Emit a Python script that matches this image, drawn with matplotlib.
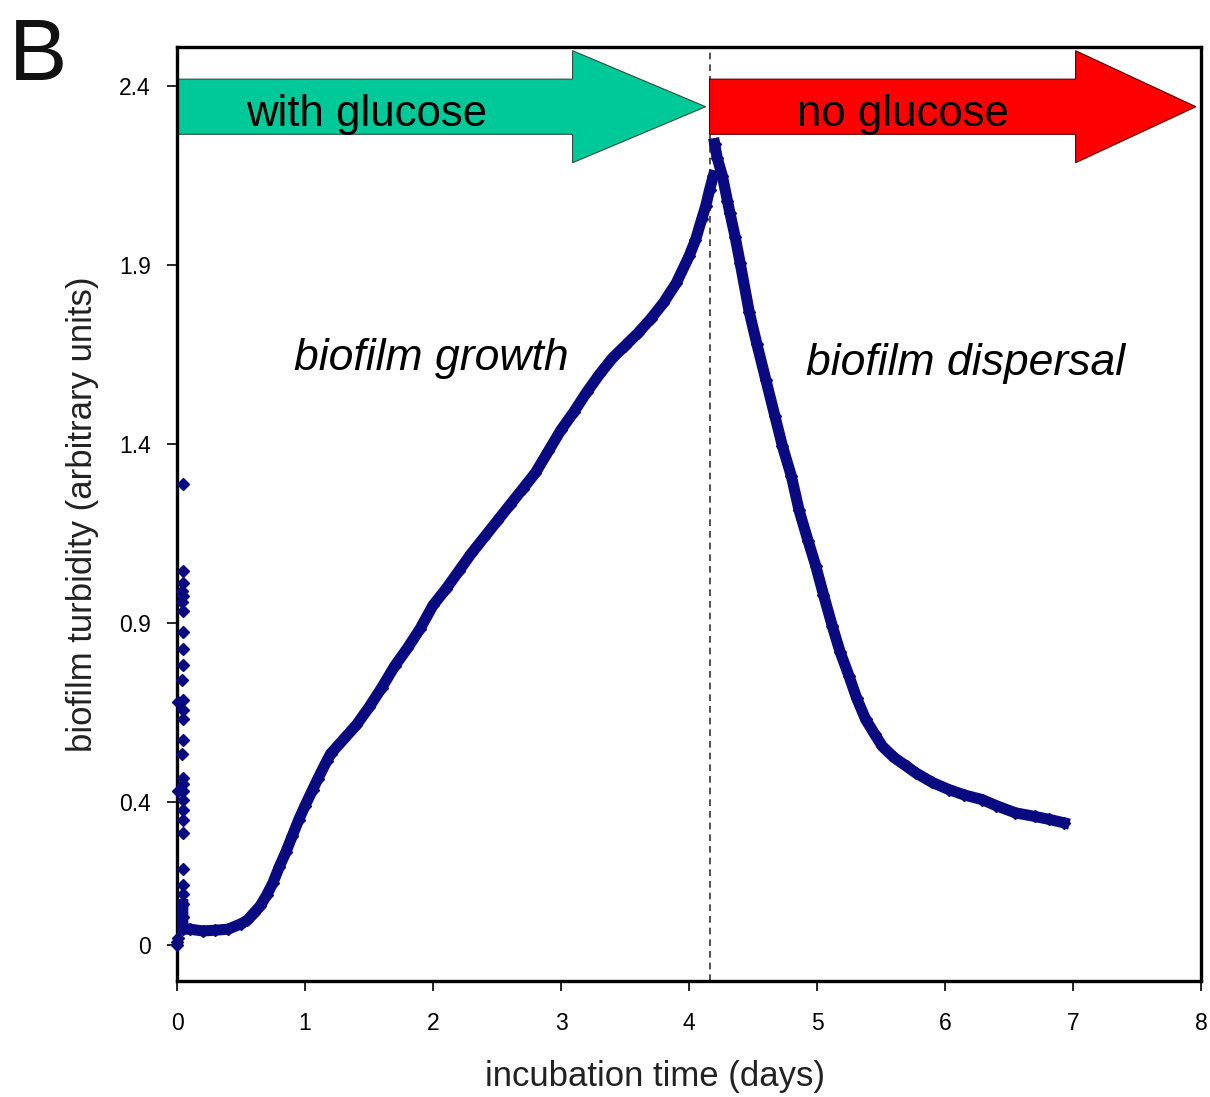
import matplotlib
matplotlib.use("Agg")
import matplotlib.pyplot as plt
from matplotlib.patches import FancyArrow

plt.rcParams['font.family'] = ['Liberation Sans', 'DejaVu Sans']

# ---- data ----
# initial spike of scattered readings at the very start
spike_x = [0.0, 0.0, 0.01, 0.045, 0.045, 0.045, 0.04, 0.045, 0.04, 0.045, 0.045, 0.045,
           0.045, 0.04, 0.045, 0.01, 0.045, 0.045, 0.045, 0.04, 0.045, 0.045, 0.01,
           0.045, 0.045, 0.045, 0.045, 0.045, 0.045, 0.045, 0.045]
spike_y = [0.0, 0.01, 0.02, 1.29, 1.047, 1.013, 0.99, 0.975, 0.96, 0.935, 0.876, 0.827,
           0.783, 0.74, 0.686, 0.68, 0.656, 0.632, 0.573, 0.534, 0.466, 0.45, 0.43,
           0.432, 0.407, 0.378, 0.349, 0.315, 0.212, 0.168, 0.144]

# growth phase (with glucose)
growth_x = [0.045, 0.045, 0.045, 0.1, 0.2, 0.3, 0.4, 0.5, 0.55, 0.6, 0.65, 0.7, 0.75, 0.8,
            0.85, 0.9, 0.95, 1.0, 1.06, 1.1, 1.17, 1.2, 1.3, 1.4, 1.5, 1.6, 1.7, 1.8,
            1.9, 2.0, 2.1, 2.2, 2.3, 2.4, 2.5, 2.6, 2.7, 2.8, 2.9, 3.0, 3.1, 3.2, 3.3,
            3.4, 3.5, 3.6, 3.7, 3.8, 3.9, 4.0, 4.05, 4.1, 4.13, 4.16, 4.19]
growth_y = [0.114, 0.08, 0.045, 0.045, 0.04, 0.042, 0.045, 0.06, 0.07, 0.09, 0.11, 0.14,
            0.175, 0.22, 0.26, 0.305, 0.35, 0.39, 0.435, 0.465, 0.515, 0.535, 0.575, 0.615,
            0.665, 0.72, 0.78, 0.83, 0.885, 0.95, 0.995, 1.045, 1.095, 1.14, 1.185, 1.23,
            1.275, 1.32, 1.38, 1.44, 1.49, 1.545, 1.595, 1.64, 1.675, 1.71, 1.75, 1.795,
            1.85, 1.925, 1.97, 2.03, 2.065, 2.11, 2.15]

# dispersal phase (no glucose)
disp_x = [4.2, 4.22, 4.26, 4.3, 4.32, 4.36, 4.4, 4.47, 4.53, 4.6, 4.67, 4.73, 4.8, 4.86,
          4.93, 4.99, 5.05, 5.12, 5.18, 5.25, 5.31, 5.38, 5.45, 5.51, 5.6, 5.7, 5.77,
          5.9, 6.03, 6.15, 6.29, 6.4, 6.55, 6.7, 6.81, 6.93]
disp_y = [2.24, 2.2, 2.15, 2.08, 2.045, 1.98, 1.905, 1.77, 1.68, 1.58, 1.48, 1.394, 1.31,
          1.215, 1.13, 1.06, 0.98, 0.891, 0.82, 0.752, 0.69, 0.631, 0.59, 0.556, 0.525,
          0.5, 0.482, 0.455, 0.435, 0.42, 0.407, 0.39, 0.37, 0.36, 0.352, 0.342]

switch_day = 4.16
x_ticks = [0, 1, 2, 3, 4, 5, 6, 7, 8]
y_ticks = [0, 0.4, 0.9, 1.4, 1.9, 2.4]
y_tick_labels = ['0', '0.4', '0.9', '1.4', '1.9', '2.4']

navy = '#0A0A80'

fig = plt.figure(figsize=(12.1, 10.97), dpi=100)
ax = fig.add_axes([0.1463, 0.1057, 0.8463, 0.8515])
ax.set_xlim(0, 8)
ax.set_ylim(-0.1, 2.51)

# dashed line at medium switch
ax.axvline(switch_day, color='#333333', lw=1.2, dashes=(4, 3), zorder=1)

# arrows
ax.add_patch(FancyArrow(0, 2.343, 4.13, 0, width=0.154, head_width=0.313,
                        head_length=1.04, length_includes_head=True,
                        facecolor='#00C999', edgecolor='#2f4f3f', lw=0.8, zorder=2))
ax.add_patch(FancyArrow(switch_day, 2.343, 7.96 - switch_day, 0, width=0.154,
                        head_width=0.313, head_length=0.94, length_includes_head=True,
                        facecolor='#FF0000', edgecolor='#5a0000', lw=0.8, zorder=2))
ax.text(1.48, 2.289, 'with glucose', fontsize=31.5, ha='center', va='baseline', zorder=3)
ax.text(5.675, 2.289, 'no glucose', fontsize=31.5, ha='center', va='baseline', zorder=3)

# data
ax.plot(growth_x, growth_y, color=navy, lw=8, marker='D', ms=6.5,
        solid_joinstyle='round', zorder=4, clip_on=False)
ax.plot(disp_x, disp_y, color=navy, lw=8, marker='D', ms=6.5,
        solid_joinstyle='round', zorder=4)
ax.plot(spike_x, spike_y, linestyle='none', color=navy, marker='D', ms=6,
        zorder=4, clip_on=False)

ax.text(1.984, 1.608, 'biofilm growth', fontsize=32, style='italic',
        ha='center', va='baseline')
ax.text(6.16, 1.594, 'biofilm dispersal', fontsize=32, style='italic',
        ha='center', va='baseline')

ax.set_xticks(x_ticks)
ax.set_yticks(y_ticks)
ax.set_yticklabels(y_tick_labels)
ax.tick_params(axis='both', direction='out', length=7, width=1.2, labelsize=16.5,
               colors='black')
ax.tick_params(axis='x', pad=15)
ax.tick_params(axis='y', pad=12)
for s in ax.spines.values():
    s.set_linewidth(2.4)

ax.set_xlabel('incubation time (days)', fontsize=25, color='#222222')
ax.xaxis.set_label_coords(0.467, -0.085)
ax.set_ylabel('biofilm turbidity (arbitrary units)', fontsize=25, labelpad=14,
              color='#222222')

fig.text(0.007, 0.927, 'B', fontsize=63, va='baseline', ha='left', color='#111111')

fig.savefig('out.png', dpi=100)
